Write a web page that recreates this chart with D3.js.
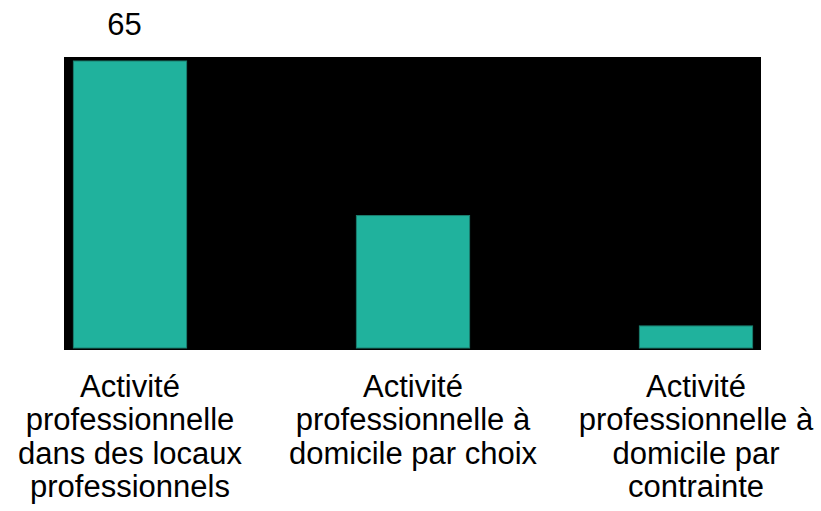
<!DOCTYPE html>
<html>
<head>
<meta charset="utf-8">
<script src="https://cdn.jsdelivr.net/npm/d3@7"></script>
<style>
  html, body { margin: 0; padding: 0; background: #fff; }
  svg { display: block; }
  text { font-family: "Liberation Sans", Arial, sans-serif; fill: #000; }
</style>
</head>
<body>
<svg id="chart" width="821" height="511"></svg>
<script>
const categories = [
  "Activité\nprofessionnelle\ndans des locaux\nprofessionnels",
  "Activité\nprofessionnelle à\ndomicile par choix",
  "Activité\nprofessionnelle à\ndomicile par\ncontrainte"
];
const values = [65, 30, 5];
const valueLabels = ["65", "", ""];

const svg = d3.select("#chart");
const plot = { left: 64, right: 761, top: 57, bottom: 350 };

const x = d3.scaleBand()
  .domain(categories)
  .range([-11.5, 837.5])
  .paddingInner(0.6)
  .paddingOuter(0.3);

const y = d3.scaleLinear()
  .domain([0, 65])
  .range([348, 61]);

svg.append("rect")
  .attr("x", plot.left)
  .attr("y", plot.top)
  .attr("width", plot.right - plot.left)
  .attr("height", plot.bottom - plot.top)
  .attr("fill", "#000");

svg.selectAll("rect.bar")
  .data(values)
  .join("rect")
  .attr("class", "bar")
  .attr("x", (d, i) => x(categories[i]))
  .attr("y", d => y(d))
  .attr("width", x.bandwidth())
  .attr("height", d => y(0) - y(d))
  .attr("fill", "#20B29D")
  .attr("stroke", "#1b7e6e")
  .attr("stroke-width", 1);

svg.selectAll("text.val")
  .data(values)
  .join("text")
  .attr("class", "val")
  .attr("x", (d, i) => x(categories[i]) + x.bandwidth() / 2 - 5.5)
  .attr("y", 35)
  .attr("text-anchor", "middle")
  .attr("font-size", 31)
  .text((d, i) => valueLabels[i]);

const lab = svg.selectAll("text.cat")
  .data(categories)
  .join("text")
  .attr("class", "cat")
  .attr("text-anchor", "middle")
  .attr("font-size", 31)
  .attr("x", d => x(d) + x.bandwidth() / 2)
  .attr("y", 396.5);

lab.each(function(d) {
  const t = d3.select(this);
  const cx = x(d) + x.bandwidth() / 2;
  d.split("\n").forEach((line, j) => {
    t.append("tspan")
      .attr("x", cx)
      .attr("y", 396.5 + j * 33.6)
      .text(line);
  });
});
</script>
</body>
</html>
